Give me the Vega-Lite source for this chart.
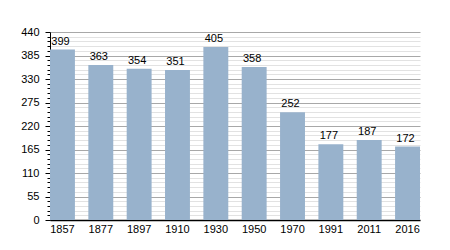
{
  "$schema": "https://vega.github.io/schema/vega-lite/v6.json",
  "width": 370,
  "height": 188,
  "autosize": {"type": "none"},
  "padding": {"left": 50, "top": 32, "right": 30, "bottom": 30},
  "background": "white",
  "config": {
    "view": {"stroke": null},
    "font": "Liberation Sans",
    "axis": {"labelFont": "Liberation Sans", "labelFontSize": 11, "labelColor": "#000000"}
  },
  "data": {
    "values": [
      {"year": "1857", "pop": 399},
      {"year": "1877", "pop": 363},
      {"year": "1897", "pop": 354},
      {"year": "1910", "pop": 351},
      {"year": "1930", "pop": 405},
      {"year": "1950", "pop": 358},
      {"year": "1970", "pop": 252},
      {"year": "1991", "pop": 177},
      {"year": "2011", "pop": 187},
      {"year": "2016", "pop": 172}
    ]
  },
  "encoding": {
    "x": {
      "field": "year",
      "type": "ordinal",
      "sort": null,
      "scale": {"paddingInner": 0.35, "paddingOuter": 0},
      "axis": {
        "title": null,
        "labelAngle": 0,
        "ticks": false,
        "domainColor": "#000000",
        "domainWidth": 1.5,
        "labelPadding": 3
      }
    },
    "y": {
      "field": "pop",
      "type": "quantitative",
      "scale": {"domain": [0, 440], "nice": false}
    }
  },
  "layer": [
    {
      "mark": {"type": "bar", "color": "#98b2cc"},
      "encoding": {
        "y": {
          "field": "pop",
          "type": "quantitative",
          "axis": {
            "title": null,
            "values": [0, 55, 110, 165, 220, 275, 330, 385, 440],
            "tickSize": 5,
            "tickColor": "#000000",
            "domainColor": "#000000",
            "labelPadding": 6,
            "grid": true,
            "gridColor": "#a8a8a8",
            "gridWidth": 1
          }
        }
      }
    },
    {
      "mark": {"type": "text", "baseline": "bottom", "dy": -3, "dx": -2, "fontSize": 11, "color": "#000000"},
      "encoding": {
        "text": {"field": "pop", "type": "quantitative"},
        "y": {
          "field": "pop",
          "type": "quantitative",
          "axis": {
            "title": null,
            "orient": "left",
            "values": [11, 22, 33, 44, 66, 77, 88, 99, 121, 132, 143, 154, 176, 187, 198, 209, 231, 242, 253, 264, 286, 297, 308, 319, 341, 352, 363, 374, 396, 407, 418, 429],
            "labels": false,
            "domain": false,
            "tickSize": 3,
            "tickColor": "#000000",
            "grid": true,
            "gridColor": "#e2e2e2",
            "gridWidth": 1
          }
        }
      }
    }
  ],
  "resolve": {"axis": {"y": "independent"}}
}
